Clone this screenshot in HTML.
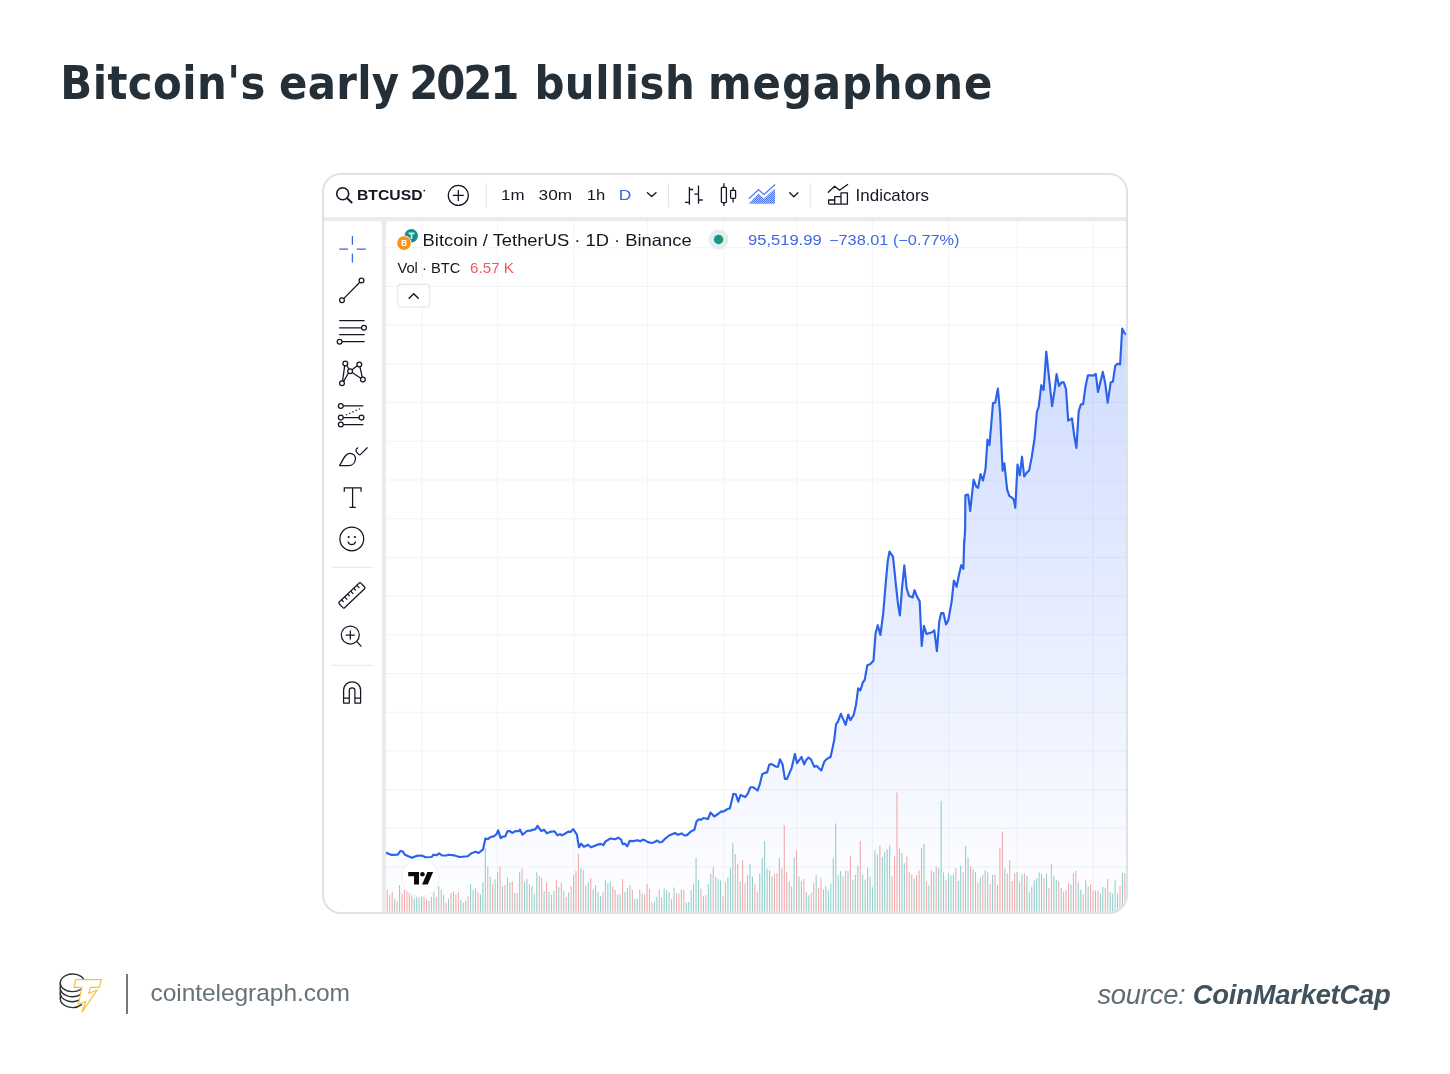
<!DOCTYPE html>
<html><head><meta charset="utf-8"><title>Bitcoin's early 2021 bullish megaphone</title>
<style>
html,body{margin:0;padding:0;background:#fff;}
body{width:1450px;height:1074px;position:relative;overflow:hidden;font-family:"Liberation Sans",sans-serif;}
#title{position:absolute;left:61px;top:53px;width:1000px;height:60px;font-family:"DejaVu Sans Condensed","Liberation Sans",sans-serif;font-size:46.5px;font-weight:bold;color:#252f38;white-space:nowrap;line-height:60px;}
#card{position:absolute;left:322px;top:173px;width:802px;height:737px;border:2px solid #dbe3e7;border-radius:19px;background:#ebebec;overflow:hidden;}
#topbar{position:absolute;left:0;top:0;width:802px;height:42px;background:#fff;}
#side{position:absolute;left:0;top:46px;width:58px;height:691px;background:#fff;border-top-right-radius:4px;}
#chart{position:absolute;left:62px;top:46px;width:740px;height:691px;background:#fff;border-top-left-radius:4px;overflow:hidden;}
#plot{position:absolute;left:0;top:0;}
svg text{font-family:"Liberation Sans",sans-serif;}
.ov{position:absolute;left:0;top:0;overflow:visible;}
#footer-url{position:absolute;left:150.5px;top:979px;font-size:24.5px;color:#66727a;letter-spacing:-0.05px;white-space:nowrap;}
#footer-bar{position:absolute;left:126px;top:974px;width:2px;height:40px;background:#777;}
#source{position:absolute;right:59.5px;top:978.6px;font-size:27.4px;font-style:italic;color:#5d6c76;letter-spacing:-0.25px;white-space:nowrap;}
#source b{color:#42525d;}
#title span{position:absolute;top:0;}
</style></head>
<body>
<div id="title"><span style="left:-0.7px;letter-spacing:0.44px">Bitcoin's</span> <span style="left:218px;letter-spacing:0.3px">early</span> <span style="left:348.3px;letter-spacing:-2.1px">2021</span> <span style="left:473.4px;letter-spacing:0.5px">bullish</span> <span style="left:647px;letter-spacing:0.95px">megaphone</span></div>
<div id="card">
  <div id="topbar">
  <svg class="ov" width="802" height="42" viewBox="324 175 802 42">
<g fill="none" stroke="#131722" stroke-width="1.6" stroke-linecap="round">
<circle cx="342.7" cy="193.7" r="6"/><path d="M347.1 198.1L351.6 202.5" stroke-width="1.9"/>
</g>
<text x="357" y="200.3" font-size="14.2" font-weight="bold" fill="#131722" textLength="65.5" lengthAdjust="spacingAndGlyphs">BTCUSD</text>
<circle cx="424.3" cy="190.6" r="0.9" fill="#131722"/>
<g fill="none" stroke="#131722" stroke-width="1.25">
<circle cx="458.3" cy="195.4" r="10"/><path d="M452.8 195.4H463.8M458.3 189.9V200.9"/>
</g>
<path d="M486.2 183V207.5M668.5 183V207.5M810.3 183V207.5" stroke="#e3e5ea" stroke-width="1.2" fill="none"/>
<g font-size="15" fill="#131722">
<text x="501" y="200.4" textLength="23.5" lengthAdjust="spacingAndGlyphs">1m</text>
<text x="538.6" y="200.4" textLength="33.6" lengthAdjust="spacingAndGlyphs">30m</text>
<text x="586.8" y="200.4" textLength="18.4" lengthAdjust="spacingAndGlyphs">1h</text>
<text x="618.8" y="200.4" textLength="12.6" lengthAdjust="spacingAndGlyphs" fill="#3a62e4">D</text>
<text x="855.6" y="200.8" font-size="16.2" textLength="73.4" lengthAdjust="spacingAndGlyphs">Indicators</text>
</g>
<g fill="none" stroke="#131722" stroke-width="1.3" stroke-linecap="round" stroke-linejoin="round">
<path d="M647.4 192.7L651.7 196.6L656 192.7"/>
<path d="M789.7 192.8L793.8 196.7L797.9 192.8"/>
</g>
<g fill="none" stroke="#131722" stroke-width="1.3">
<path d="M689.4 187V204.8M689.4 189.5H693.2M685 202.4H689.4M698.5 185.5V203.8M694.3 194.2H698.5M698.5 200H702.7"/>
<path d="M723.9 183.2V187.4M723.9 202.6V206M733.1 187V190.4M733.1 198.4V202.6"/>
<rect x="721.4" y="187.4" width="5" height="15.2" rx="0.8"/>
<rect x="730.6" y="190.4" width="5" height="8" rx="0.8"/>
<path d="M828.3 192.3L834.6 186.2L839.6 190.3L847.6 184.4" stroke-linejoin="round" stroke-linecap="round"/>
<path d="M828.6 204.1V200H834.7V204.1M834.7 200V196.7H841V204.1M841 196.7V192.8H847.4V204.1H828.6" stroke-linejoin="round"/>
</g>
<path d="M748.8 198.8L758.5 189.7L764 194.6L775 184.6" fill="none" stroke="#5d82ec" stroke-width="1.3"/>
<defs><pattern id="dots" x="0" y="0" width="2" height="2" patternUnits="userSpaceOnUse"><rect x="0" y="0" width="1" height="1" fill="#4a72ea"/><rect x="1" y="1" width="1" height="1" fill="#4a72ea"/><rect x="1" y="0" width="1" height="1" fill="#b4c6f7"/><rect x="0" y="1" width="1" height="1" fill="#b4c6f7"/></pattern></defs><path d="M748.8 203.8L758.5 193.6L764 198.4L775 188.4V203.8Z" fill="url(#dots)"/>
</svg>
<!--TOPBAR_END-->
  </div>
  <div id="side">
  <svg class="ov" width="58" height="691" viewBox="324 221 58 691">
<path d="M339.2 249.2H348.1M356.8 249.2H365.8M352.4 236V244.8M352.4 253.7V262.4" stroke="#3c64e6" stroke-width="1.3" fill="none"/>
<g fill="none" stroke="#131722" stroke-width="1.25">
<!-- trend line -->
<circle cx="342" cy="300.3" r="2.4"/><circle cx="361.5" cy="280.5" r="2.4"/><path d="M343.7 298.6L359.8 282.2"/>
<!-- fib -->
<path d="M339.2 320.7H364.6M339.2 327.8H361.5M339.2 334.7H364.6M342 341.7H364.6"/><circle cx="364" cy="327.8" r="2.4"/><circle cx="339.6" cy="341.7" r="2.4"/>
<!-- pattern -->
<path d="M342.6 380.9L344.7 365.7M346.7 365.3L349 369.2M343.7 381.4L348.4 373M352.1 369.8L357.3 365.8M359.9 366.8L362.3 377.3M352.2 372.4L360.8 378.3"/>
<circle cx="345.3" cy="363.4" r="2.4"/><circle cx="359.3" cy="364.5" r="2.4"/><circle cx="350.1" cy="371.2" r="2.4"/><circle cx="342" cy="383.2" r="2.4"/><circle cx="362.9" cy="379.6" r="2.4"/>
<!-- position -->
<circle cx="340.8" cy="405.9" r="2.4"/><circle cx="340.8" cy="417.6" r="2.4"/><circle cx="340.8" cy="424.5" r="2.4"/><circle cx="361.5" cy="417.6" r="2.4"/>
<path d="M343.2 405.9H363.3M343.2 417.6H359.1M343.2 424.5H363.3"/><path d="M346 415L361.5 408" stroke-dasharray="1.3 2.2"/>
<!-- brush -->
<path d="M339.6 465.6C343 460 345 453.6 349.6 453.4C353.5 453.3 356 456 355.4 459.5C354.8 463.2 352 465.6 348.5 465.6Z" stroke-linejoin="round"/>
<path d="M357.6 447.9C355.6 449 355.6 451 357 452.6L358.8 454.4C359.4 455 360 455 360.6 454.4L367.2 447.8" stroke-linecap="round"/>
<!-- T -->
<path d="M344.3 491.8V487.8H361V491.8M352.6 487.8V507.4M349.5 507.4H355.8"/>
<!-- smiley -->
<circle cx="351.8" cy="538.9" r="11.9"/><path d="M348.1 541.9C349.4 545.6 354.2 545.6 355.5 541.9" stroke-linecap="round"/>
<!-- ruler -->
<g transform="translate(351.9 595.4) rotate(-43.5)"><rect x="-15" y="-3.9" width="30" height="7.8" rx="1.2"/><path d="M-10.5 -3.9V-1M-6.3 -3.9V-0.2M-2.1 -3.9V-1M2.1 -3.9V-0.2M6.3 -3.9V-1M10.5 -3.9V-0.2"/></g>
<!-- zoom -->
<circle cx="350.3" cy="635" r="9"/><path d="M346.2 635H354.4M350.3 630.9V639.1M356.7 641.4L361 646.2" stroke-linecap="round"/>
<!-- magnet -->
<path d="M343.6 703V690.5C343.6 679 360.6 679 360.6 690.5V703H354.9V690.5C354.9 687 349.3 687 349.3 690.5V703ZM343.6 698.2H349.3M354.9 698.2H360.6" stroke-linejoin="round"/>
</g>
<circle cx="348.7" cy="537" r="1.1" fill="#131722"/><circle cx="354.9" cy="537" r="1.1" fill="#131722"/>
<path d="M331 567.3H373.3M331 665.4H373.3" stroke="#ececee" stroke-width="1.2" fill="none"/>
</svg>
  </div>
  <div id="chart">
<svg id="plot" width="740" height="691" viewBox="0 0 740 691">
<defs><linearGradient id="ag" x1="0" y1="104" x2="0" y2="691" gradientUnits="userSpaceOnUse" ><stop offset="0" stop-color="#2962ff" stop-opacity="0.225"/><stop offset="1" stop-color="#2962ff" stop-opacity="0"/></linearGradient></defs>
<path d="M35.9 0V691M111.6 0V691M188.1 0V691M261.3 0V691M337.6 0V691M410.8 0V691M486.4 0V691M562.6 0V691M631.2 0V691M707.1 0V691M0 26.8H740M0 65.5H740M0 104.2H740M0 142.9H740M0 181.6H740M0 220.3H740M0 259.0H740M0 297.7H740M0 336.4H740M0 375.1H740M0 413.8H740M0 452.5H740M0 491.2H740M0 529.9H740M0 568.6H740M0 607.3H740M0 646.0H740M0 684.7H740" stroke="#f2f3f6" stroke-width="1" fill="none"/>
<path d="M8.65 691v-13.2M13.55 691v-26.9M28.26 691v-13.7M30.71 691v-14.9M33.16 691v-14.1M35.61 691v-14.9M42.96 691v-11.2M47.86 691v-19.9M52.76 691v-25.7M57.66 691v-17.0M62.56 691v-13.2M67.46 691v-20.7M74.81 691v-12.4M77.27 691v-9.5M79.72 691v-11.2M84.62 691v-27.7M87.07 691v-21.9M89.52 691v-23.6M94.42 691v-17.8M96.87 691v-29.8M99.32 691v-63.7M104.22 691v-35.6M109.12 691v-32.7M111.57 691v-39.7M116.47 691v-26.1M121.37 691v-34.8M123.82 691v-29.8M128.73 691v-19.0M133.63 691v-40.1M138.53 691v-30.2M140.98 691v-32.7M145.88 691v-25.7M148.33 691v-18.6M150.78 691v-39.7M158.13 691v-21.1M163.03 691v-19.9M167.93 691v-21.1M172.84 691v-24.8M177.74 691v-20.7M182.64 691v-19.4M187.54 691v-36.8M194.89 691v-43.9M199.79 691v-26.5M202.24 691v-29.4M207.14 691v-22.8M209.59 691v-26.9M212.04 691v-19.9M214.49 691v-16.1M219.39 691v-31.4M221.85 691v-28.6M224.30 691v-30.2M231.65 691v-17.4M234.10 691v-17.8M239.00 691v-20.3M243.90 691v-26.9M248.80 691v-12.8M251.25 691v-13.7M256.15 691v-18.6M268.40 691v-10.3M270.86 691v-15.3M275.76 691v-14.5M278.21 691v-23.6M280.66 691v-21.9M283.11 691v-19.9M285.56 691v-12.8M288.01 691v-24.4M295.36 691v-22.3M300.26 691v-9.5M302.71 691v-9.9M305.16 691v-21.9M307.61 691v-28.6M310.06 691v-54.6M312.51 691v-32.3M317.41 691v-15.7M322.32 691v-28.1M324.77 691v-38.1M329.67 691v-35.2M332.12 691v-33.1M334.57 691v-31.4M341.92 691v-34.8M344.37 691v-43.9M346.82 691v-68.7M354.17 691v-30.6M361.52 691v-36.7M363.97 691v-47.9M366.42 691v-35.5M373.78 691v-38.4M376.23 691v-54.1M378.68 691v-71.1M381.13 691v-43.3M383.58 691v-41.7M386.03 691v-35.5M393.38 691v-54.1M403.18 691v-30.5M405.63 691v-25.5M408.08 691v-54.5M412.98 691v-35.5M415.43 691v-30.9M420.34 691v-19.7M422.79 691v-16.8M430.14 691v-37.1M437.49 691v-22.6M439.94 691v-25.9M442.39 691v-21.8M444.84 691v-28.4M447.29 691v-53.7M449.74 691v-88.4M452.19 691v-37.1M454.64 691v-40.9M461.99 691v-40.9M466.89 691v-31.7M469.35 691v-37.1M471.80 691v-46.2M476.70 691v-37.1M479.15 691v-32.2M481.60 691v-44.6M484.05 691v-35.5M486.50 691v-24.7M488.95 691v-61.6M491.40 691v-57.4M496.30 691v-54.9M498.75 691v-59.9M501.20 691v-62.8M503.65 691v-66.5M515.90 691v-59.1M518.36 691v-48.7M528.16 691v-33.0M537.96 691v-68.2M542.86 691v-26.8M547.76 691v-40.0M552.66 691v-43.8M555.11 691v-111.3M557.56 691v-39.6M562.46 691v-38.8M564.91 691v-36.7M567.37 691v-37.5M572.27 691v-30.9M574.72 691v-46.2M579.62 691v-66.1M582.07 691v-54.5M586.97 691v-42.5M594.32 691v-34.2M599.22 691v-41.7M601.67 691v-39.6M606.57 691v-37.1M611.47 691v-26.8M618.83 691v-43.8M631.08 691v-40.0M635.98 691v-37.5M640.88 691v-36.3M643.33 691v-19.7M645.78 691v-25.5M648.23 691v-31.7M650.68 691v-33.4M653.13 691v-39.6M655.58 691v-38.0M660.48 691v-38.8M667.84 691v-36.3M670.29 691v-32.2M675.19 691v-23.9M677.64 691v-20.6M684.99 691v-27.2M692.34 691v-29.7M694.79 691v-22.6M699.69 691v-31.7M702.14 691v-25.5M709.49 691v-21.4M714.40 691v-18.5M716.85 691v-25.1M724.20 691v-20.0M726.65 691v-18.2M729.10 691v-32.1M731.55 691v-18.8M736.45 691v-38.7" stroke="#95d1ca" stroke-width="1.1" fill="none"/>
<path d="M1.30 691v-22.3M3.75 691v-17.0M6.20 691v-20.3M11.10 691v-10.8M16.00 691v-18.6M18.45 691v-22.3M20.90 691v-21.5M23.35 691v-19.0M25.81 691v-16.6M38.06 691v-14.9M40.51 691v-12.8M45.41 691v-15.3M50.31 691v-15.3M55.21 691v-22.3M60.11 691v-9.5M65.01 691v-19.0M69.91 691v-17.4M72.36 691v-19.9M82.17 691v-15.7M91.97 691v-19.9M101.77 691v-45.5M106.67 691v-27.7M114.02 691v-45.5M118.92 691v-26.9M126.28 691v-30.6M131.18 691v-19.0M136.08 691v-43.4M143.43 691v-27.7M153.23 691v-36.0M155.68 691v-34.3M160.58 691v-29.8M165.48 691v-17.0M170.38 691v-32.3M175.29 691v-29.4M180.19 691v-14.9M185.09 691v-25.7M189.99 691v-41.0M192.44 691v-57.9M197.34 691v-41.8M204.69 691v-33.9M216.94 691v-19.9M226.75 691v-25.2M229.20 691v-21.9M236.55 691v-32.7M241.45 691v-24.0M246.35 691v-21.9M253.70 691v-22.8M258.60 691v-17.4M261.05 691v-28.1M263.50 691v-22.8M265.95 691v-9.5M273.31 691v-22.3M290.46 691v-19.0M292.91 691v-18.6M297.81 691v-22.3M314.96 691v-23.2M319.87 691v-17.0M327.22 691v-45.1M337.02 691v-15.7M339.47 691v-29.4M349.27 691v-57.9M351.72 691v-48.0M356.62 691v-51.7M359.07 691v-28.8M368.88 691v-27.6M371.33 691v-20.1M388.48 691v-38.4M390.93 691v-38.8M395.83 691v-43.8M398.28 691v-86.5M400.73 691v-40.0M410.53 691v-61.2M417.88 691v-33.0M425.24 691v-18.9M427.69 691v-28.8M432.59 691v-24.3M435.04 691v-34.2M457.09 691v-35.9M459.54 691v-41.7M464.44 691v-55.8M474.25 691v-71.1M493.85 691v-66.5M506.10 691v-35.5M508.55 691v-55.8M511.00 691v-119.6M513.45 691v-63.6M520.81 691v-55.8M523.26 691v-40.0M525.71 691v-37.5M530.61 691v-37.1M533.06 691v-41.7M535.51 691v-64.1M540.41 691v-30.5M545.31 691v-41.7M550.21 691v-45.4M560.01 691v-31.7M569.82 691v-43.8M577.17 691v-39.6M584.52 691v-45.8M589.42 691v-40.0M591.87 691v-29.7M596.77 691v-37.1M604.12 691v-28.0M609.02 691v-37.5M613.92 691v-64.1M616.38 691v-80.6M621.28 691v-38.8M623.73 691v-52.0M626.18 691v-30.9M628.63 691v-38.8M633.53 691v-29.7M638.43 691v-38.8M658.03 691v-33.8M662.93 691v-23.9M665.39 691v-48.3M672.74 691v-30.9M680.09 691v-22.2M682.54 691v-29.3M687.44 691v-38.8M689.89 691v-41.3M697.24 691v-17.7M704.59 691v-28.0M707.04 691v-21.8M711.94 691v-21.8M719.30 691v-24.5M721.75 691v-33.0M734.00 691v-26.0M738.90 691v-38.7" stroke="#f6acaa" stroke-width="1.1" fill="none"/>
<polygon points="-1,691 -1,631.9 0.7,631.9 5.6,633.9 11.8,633.7 14.3,630.0 16.4,630.2 18.9,633.7 25.9,636.8 30.4,634.9 35.8,634.5 39.6,636.3 45.8,636.0 47.4,633.7 50.7,634.1 53.2,632.4 56.1,634.5 60.2,634.5 62.7,633.7 68.5,634.4 73.5,636.0 81.8,635.2 85.9,632.0 90.0,630.8 92.5,632.0 97.1,628.3 99.3,617.6 102.0,618.1 104.1,616.3 108.2,615.1 110.3,613.4 112.2,609.3 112.3,609.8 114.5,616.7 114.8,617.1 116.5,615.6 119.3,615.4 121.4,610.4 123.5,610.0 126.4,611.9 129.7,610.0 132.6,610.3 134.0,608.6 136.5,613.8 140.9,610.0 144.2,609.6 149.6,608.1 151.5,604.8 155.3,610.0 158.2,608.8 161.0,612.3 164.0,610.9 168.6,610.3 171.5,614.4 174.0,613.1 176.0,614.4 179.3,612.5 182.2,610.6 184.7,610.9 187.2,608.1 190.8,613.3 193.0,626.2 195.1,622.7 198.0,625.8 202.1,623.7 205.0,626.2 210.8,623.9 214.9,622.9 217.4,624.1 219.5,620.4 224.5,617.5 229.3,618.2 232.2,616.6 235.1,618.7 236.8,623.2 238.9,622.6 241.3,625.3 243.7,619.9 246.7,620.1 251.7,619.3 254.2,620.3 256.7,618.7 258.6,619.1 262.0,621.1 265.8,622.0 268.7,621.0 271.3,619.5 273.6,621.3 275.9,621.0 278.6,618.2 283.1,614.5 288.9,612.0 291.8,613.7 295.6,612.4 298.5,614.5 300.9,614.1 305.1,610.4 308.4,608.7 310.5,600.4 312.5,598.4 315.4,598.6 317.5,597.0 322.0,598.0 324.5,591.5 328.2,595.5 332.0,593.0 335.3,590.4 337.3,590.7 340.6,588.5 343.9,587.3 347.4,572.8 349.7,573.2 352.3,580.7 354.5,574.0 359.2,576.1 361.7,572.8 364.4,566.2 367.1,566.2 371.6,569.5 373.7,563.7 376.2,553.3 378.7,551.9 381.1,551.4 383.2,543.8 385.3,543.0 389.8,545.5 391.9,545.9 394.0,538.4 396.5,543.0 398.9,557.9 401.0,557.9 405.6,547.1 408.9,533.1 411.1,542.2 415.5,536.0 418.2,543.4 420.0,539.3 422.5,536.5 425.0,538.4 428.3,545.9 430.4,544.8 435.3,549.5 438.2,540.9 440.3,538.4 444.2,535.8 444.5,536.2 446.5,527.3 448.2,519.0 450.1,503.2 452.0,500.6 454.9,492.8 459.6,503.9 462.2,493.5 464.4,499.1 467.7,494.1 470.0,483.7 472.2,467.4 474.4,469.4 476.8,461.5 478.7,458.9 481.3,444.3 484.0,443.3 487.5,439.7 489.6,412.0 491.8,404.2 494.4,414.0 497.2,392.4 499.8,361.1 501.8,339.6 503.5,330.5 507.0,335.7 510.3,367.6 512.2,384.6 513.9,394.3 516.1,366.3 518.3,344.4 520.7,367.6 523.0,374.8 526.6,376.5 528.5,369.2 530.9,375.4 533.7,380.4 535.7,425.0 537.9,404.8 540.5,413.0 546.1,411.3 548.3,409.3 550.9,430.2 553.3,400.2 555.2,392.1 557.4,392.1 560.0,403.5 562.4,398.9 565.6,380.7 567.9,359.6 570.6,365.7 573.1,353.3 575.2,344.2 577.4,347.8 578.2,318.9 578.3,322.0 579.1,309.0 579.4,274.4 582.1,273.6 584.2,290.0 587.6,258.7 590.1,265.4 592.1,266.9 594.6,253.1 597.0,259.5 599.5,248.0 601.5,218.6 603.5,224.2 607.0,182.1 609.2,181.6 611.9,167.6 614.1,192.5 616.6,249.8 618.4,242.4 621.1,268.4 623.3,274.8 625.6,276.3 627.8,278.8 629.3,286.7 631.5,243.6 633.8,254.3 636.0,235.7 638.2,255.5 640.8,251.6 643.1,249.5 645.7,236.4 648.6,217.1 650.9,191.0 652.7,185.8 655.3,164.2 657.6,169.1 660.3,130.7 662.8,154.6 666.1,185.1 668.5,170.2 670.6,153.1 673.0,165.0 675.5,161.3 677.8,161.3 680.0,168.0 682.2,199.6 686.0,197.5 688.2,214.5 690.4,226.9 692.7,190.4 694.9,183.2 697.1,183.2 699.4,166.5 701.9,154.3 704.6,154.3 707.3,154.6 709.8,152.8 712.0,171.0 716.8,150.9 719.2,162.0 721.7,181.7 724.7,161.3 726.9,160.8 729.2,144.9 731.4,142.7 734.1,143.4 736.2,107.6 738.1,111.4 739.6,113.1 742,113.1 742,691" fill="url(#ag)"/>
<polyline points="0.7,631.9 5.6,633.9 11.8,633.7 14.3,630.0 16.4,630.2 18.9,633.7 25.9,636.8 30.4,634.9 35.8,634.5 39.6,636.3 45.8,636.0 47.4,633.7 50.7,634.1 53.2,632.4 56.1,634.5 60.2,634.5 62.7,633.7 68.5,634.4 73.5,636.0 81.8,635.2 85.9,632.0 90.0,630.8 92.5,632.0 97.1,628.3 99.3,617.6 102.0,618.1 104.1,616.3 108.2,615.1 110.3,613.4 112.2,609.3 112.3,609.8 114.5,616.7 114.8,617.1 116.5,615.6 119.3,615.4 121.4,610.4 123.5,610.0 126.4,611.9 129.7,610.0 132.6,610.3 134.0,608.6 136.5,613.8 140.9,610.0 144.2,609.6 149.6,608.1 151.5,604.8 155.3,610.0 158.2,608.8 161.0,612.3 164.0,610.9 168.6,610.3 171.5,614.4 174.0,613.1 176.0,614.4 179.3,612.5 182.2,610.6 184.7,610.9 187.2,608.1 190.8,613.3 193.0,626.2 195.1,622.7 198.0,625.8 202.1,623.7 205.0,626.2 210.8,623.9 214.9,622.9 217.4,624.1 219.5,620.4 224.5,617.5 229.3,618.2 232.2,616.6 235.1,618.7 236.8,623.2 238.9,622.6 241.3,625.3 243.7,619.9 246.7,620.1 251.7,619.3 254.2,620.3 256.7,618.7 258.6,619.1 262.0,621.1 265.8,622.0 268.7,621.0 271.3,619.5 273.6,621.3 275.9,621.0 278.6,618.2 283.1,614.5 288.9,612.0 291.8,613.7 295.6,612.4 298.5,614.5 300.9,614.1 305.1,610.4 308.4,608.7 310.5,600.4 312.5,598.4 315.4,598.6 317.5,597.0 322.0,598.0 324.5,591.5 328.2,595.5 332.0,593.0 335.3,590.4 337.3,590.7 340.6,588.5 343.9,587.3 347.4,572.8 349.7,573.2 352.3,580.7 354.5,574.0 359.2,576.1 361.7,572.8 364.4,566.2 367.1,566.2 371.6,569.5 373.7,563.7 376.2,553.3 378.7,551.9 381.1,551.4 383.2,543.8 385.3,543.0 389.8,545.5 391.9,545.9 394.0,538.4 396.5,543.0 398.9,557.9 401.0,557.9 405.6,547.1 408.9,533.1 411.1,542.2 415.5,536.0 418.2,543.4 420.0,539.3 422.5,536.5 425.0,538.4 428.3,545.9 430.4,544.8 435.3,549.5 438.2,540.9 440.3,538.4 444.2,535.8 444.5,536.2 446.5,527.3 448.2,519.0 450.1,503.2 452.0,500.6 454.9,492.8 459.6,503.9 462.2,493.5 464.4,499.1 467.7,494.1 470.0,483.7 472.2,467.4 474.4,469.4 476.8,461.5 478.7,458.9 481.3,444.3 484.0,443.3 487.5,439.7 489.6,412.0 491.8,404.2 494.4,414.0 497.2,392.4 499.8,361.1 501.8,339.6 503.5,330.5 507.0,335.7 510.3,367.6 512.2,384.6 513.9,394.3 516.1,366.3 518.3,344.4 520.7,367.6 523.0,374.8 526.6,376.5 528.5,369.2 530.9,375.4 533.7,380.4 535.7,425.0 537.9,404.8 540.5,413.0 546.1,411.3 548.3,409.3 550.9,430.2 553.3,400.2 555.2,392.1 557.4,392.1 560.0,403.5 562.4,398.9 565.6,380.7 567.9,359.6 570.6,365.7 573.1,353.3 575.2,344.2 577.4,347.8 578.2,318.9 578.3,322.0 579.1,309.0 579.4,274.4 582.1,273.6 584.2,290.0 587.6,258.7 590.1,265.4 592.1,266.9 594.6,253.1 597.0,259.5 599.5,248.0 601.5,218.6 603.5,224.2 607.0,182.1 609.2,181.6 611.9,167.6 614.1,192.5 616.6,249.8 618.4,242.4 621.1,268.4 623.3,274.8 625.6,276.3 627.8,278.8 629.3,286.7 631.5,243.6 633.8,254.3 636.0,235.7 638.2,255.5 640.8,251.6 643.1,249.5 645.7,236.4 648.6,217.1 650.9,191.0 652.7,185.8 655.3,164.2 657.6,169.1 660.3,130.7 662.8,154.6 666.1,185.1 668.5,170.2 670.6,153.1 673.0,165.0 675.5,161.3 677.8,161.3 680.0,168.0 682.2,199.6 686.0,197.5 688.2,214.5 690.4,226.9 692.7,190.4 694.9,183.2 697.1,183.2 699.4,166.5 701.9,154.3 704.6,154.3 707.3,154.6 709.8,152.8 712.0,171.0 716.8,150.9 719.2,162.0 721.7,181.7 724.7,161.3 726.9,160.8 729.2,144.9 731.4,142.7 734.1,143.4 736.2,107.6 738.1,111.4 739.6,113.1" fill="none" stroke="#2b62e9" stroke-width="2.15" stroke-linejoin="round" stroke-linecap="round"/>
</svg>
  <svg class="ov" width="740" height="691" viewBox="386 221 740 691">
<circle cx="411.3" cy="235.8" r="6.7" fill="#178e8e"/>
<path d="M408.6 232.6H414.4V234.2H412.3V238.9H410.7V234.2H408.6Z" fill="#d8f3f0"/>
<circle cx="404" cy="243.1" r="7.6" fill="#fff"/>
<circle cx="404" cy="243.1" r="6.8" fill="#f7931a"/>
<text x="404" y="246.2" font-size="8.5" font-weight="bold" fill="#fff" text-anchor="middle">B</text>
<text x="422.6" y="245.8" font-size="16.5" fill="#131722" textLength="269" lengthAdjust="spacingAndGlyphs">Bitcoin / TetherUS · 1D · Binance</text>
<circle cx="718.6" cy="239.5" r="10" fill="#e3efed"/>
<circle cx="718.6" cy="239.5" r="4.7" fill="#119a85"/>
<g font-size="14.2" fill="#3f68e4">
<text x="748" y="245.1" textLength="73.6" lengthAdjust="spacingAndGlyphs">95,519.99</text>
<text x="829" y="245.1" textLength="130.5" lengthAdjust="spacingAndGlyphs">−738.01 (−0.77%)</text>
</g>
<text x="397.4" y="273.2" font-size="14.2" fill="#131722" textLength="63" lengthAdjust="spacingAndGlyphs">Vol · BTC</text>
<text x="470" y="273.2" font-size="14.2" fill="#ee5964" textLength="44" lengthAdjust="spacingAndGlyphs">6.57 K</text>
<rect x="397.7" y="284.4" width="32" height="22.6" rx="3.5" fill="#fff" stroke="#e0e3e8" stroke-width="1.1"/>
<path d="M409.1 298.2L413.7 293.8L418.3 298.2" fill="none" stroke="#131722" stroke-width="1.45" stroke-linecap="round" stroke-linejoin="round"/>
<circle cx="420.3" cy="877.8" r="18.7" fill="#fff" stroke="#f0f0f1" stroke-width="1"/>
<path d="M408.2 872H419V884.6H414V876.2H408.2ZM427.4 872H433.1L427.8 884.6H422.1Z" fill="#0a0a0a"/>
<circle cx="422.4" cy="874.2" r="2.3" fill="#0a0a0a"/>
</svg>
  </div>
</div>
<svg style="position:absolute;left:50px;top:960px;overflow:visible" width="90" height="70" viewBox="50 960 90 70">
<g fill="none" stroke="#2a3038" stroke-width="1.35" stroke-linecap="round">
<path d="M83.6 979.2A12.2 8.8 0 1 0 81 989.2"/>
<path d="M60.3 982.8V999.1"/>
<path d="M60.3 987.7A12.2 8.8 0 0 0 80.3 994.6"/>
<path d="M60.3 992.9A12.2 8.8 0 0 0 79.2 1000.2"/>
<path d="M60.3 998.8A12.2 8.8 0 0 0 81.5 1004.6"/>
</g>
<path d="M75.7 979.6H101.5L99.2 987.4H90.7L88.5 993.2L96.9 990.3L81.9 1012.2L85.5 1001.7L78.4 1004.3L81.9 987.4H74.1Z" fill="#fff" fill-opacity="0.85" stroke="#f6c338" stroke-width="1.2" stroke-linejoin="miter"/>
</svg>
<div id="footer-bar"></div>
<div id="footer-url">cointelegraph.com</div>
<div id="source">source: <b>CoinMarketCap</b></div>
</body></html>
